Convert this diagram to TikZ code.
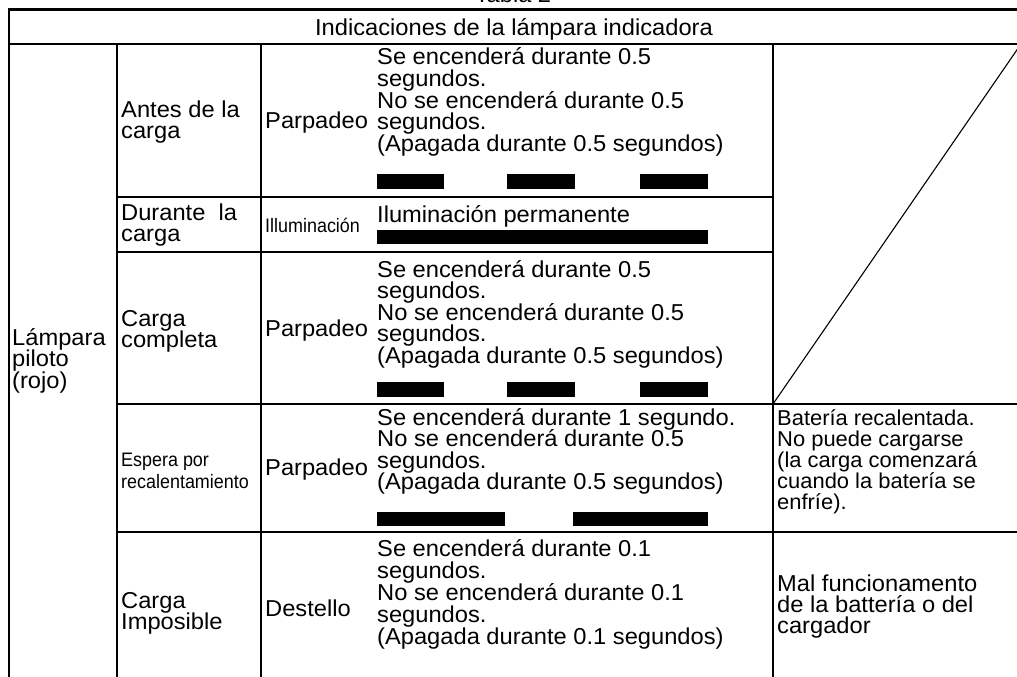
\documentclass[tikz,border=0pt]{standalone}
\usepackage{fontspec}
\setmainfont{Liberation Sans}[FakeStretch=1.03]
\newfontfamily\narrowfont{Liberation Sans}[FakeStretch=0.92]
\newfontfamily\remfont{Liberation Sans}[FakeStretch=1.02]
\begin{document}
\begin{tikzpicture}[x=1pt,y=-1pt,
  txt/.style={anchor=base west,inner sep=0pt,font=\fontsize{23}{23}\selectfont},
  sml/.style={anchor=base west,inner sep=0pt,font=\narrowfont\fontsize{19.5}{19.5}\selectfont},
  rem/.style={anchor=base west,inner sep=0pt,font=\remfont\fontsize{21.5}{21.5}\selectfont},
  grid/.style={line width=1.3pt},
  frame/.style={line width=2.8pt},
  bar/.style={fill=black,draw=none}]
\useasboundingbox (0,0) rectangle (1017,677);
\clip (0,0) rectangle (1017,677);
\fill[white] (0,0) rectangle (1017,677);

% ---- table rules ----
\draw[frame] (9,690) -- (9,9.5) -- (1040,9.5);
\draw[grid] (9,44) -- (1040,44);
\draw[grid] (117,44) -- (117,690);
\draw[grid] (261,44) -- (261,690);
\draw[grid] (773,44) -- (773,690);
\draw[grid] (117,197) -- (773,197);
\draw[grid] (117,252) -- (773,252);
\draw[grid] (117,404) -- (1040,404);
\draw[grid] (117,532) -- (1040,532);
\draw[line width=1.1pt] (773,404) -- (1021,44);

% ---- title and header ----
\node[txt,anchor=base] (tabla) at (513,3) {Tabla 2};
\node[txt,anchor=base] (head) at (514,36) {Indicaciones de la lámpara indicadora};

% ---- first column ----
\foreach \t [count=\k] in {Lámpara,piloto,(rojo)}
  \node[txt] (lamp\k) at (12,{345+21.5*(\k-1)}) {\t};

% ---- second column ----
\node[txt] (antes1) at (121,117) {Antes de la};
\node[txt] (antes2) at (121,138) {carga};
\node[txt] (dur1) at (121,220) {Durante\ \ la};
\node[txt] (dur2) at (121,241) {carga};
\node[txt] (comp1) at (121,326) {Carga};
\node[txt] (comp2) at (121,347) {completa};
\node[sml] (esp1) at (121,466) {Espera por};
\node[sml] (esp2) at (121,488) {recalentamiento};
\node[txt] (imp1) at (121,608) {Carga};
\node[txt] (imp2) at (121,629) {Imposible};

% ---- mode column ----
\node[txt] (mode1) at (265,128) {Parpadeo};
\node[sml] (mode2) at (265,232) {Illuminación};
\node[txt] (mode3) at (265,336) {Parpadeo};
\node[txt] (mode4) at (265,475) {Parpadeo};
\node[txt] (mode5) at (265,616) {Destello};

% ---- descriptions ----
\foreach \t [count=\k] in {{Se encenderá durante 0.5},{segundos.},{No se encenderá durante 0.5},{segundos.},{(Apagada durante 0.5 segundos)}}
  \node[txt] (da\k) at (377,{65+21.5*(\k-1)}) {\t};
\node[txt] (db1) at (377,222) {Iluminación permanente};
\foreach \t [count=\k] in {{Se encenderá durante 0.5},{segundos.},{No se encenderá durante 0.5},{segundos.},{(Apagada durante 0.5 segundos)}}
  \node[txt] (dc\k) at (377,{277+21.5*(\k-1)}) {\t};
\foreach \t [count=\k] in {{Se encenderá durante 1 segundo.},{No se encenderá durante 0.5},{segundos.},{(Apagada durante 0.5 segundos)}}
  \node[txt] (dd\k) at (377,{425+21.5*(\k-1)}) {\t};
\foreach \t [count=\k] in {{Se encenderá durante 0.1},{segundos.},{No se encenderá durante 0.1},{segundos.},{(Apagada durante 0.1 segundos)}}
  \node[txt] (de\k) at (377,{556+22*(\k-1)}) {\t};

% ---- remarks column ----
\foreach \t [count=\k] in {{Batería recalentada.},{No puede cargarse},{(la carga comenzará},{cuando la batería se},{enfríe).}}
  \node[rem] (re\k) at (777,{425+21*(\k-1)}) {\t};
\foreach \t [count=\k] in {{Mal funcionamento},{de la battería o del},{cargador}}
  \node[txt] (rf\k) at (777,{591+21*(\k-1)}) {\t};

% ---- indicator bars ----
\foreach \y in {174,382}{
  \fill[bar] (377,\y) rectangle (444,\y+14.5);
  \fill[bar] (507,\y) rectangle (575,\y+14.5);
  \fill[bar] (640,\y) rectangle (708,\y+14.5);
}
\fill[bar] (377,230) rectangle (708,244);
\fill[bar] (377,512) rectangle (505,525.5);
\fill[bar] (573,512) rectangle (708,525.5);
\end{tikzpicture}
\end{document}
